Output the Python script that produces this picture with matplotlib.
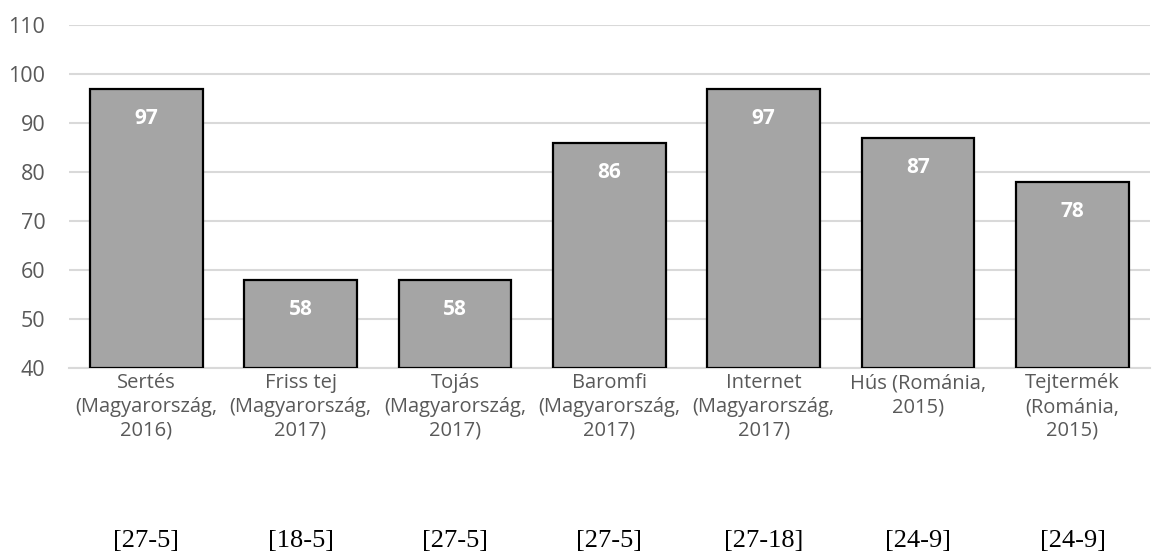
import numpy as np
import matplotlib.pyplot as plt
from matplotlib.transforms import blended_transform_factory

# data
categories = [
    "Sertés\n(Magyarország,\n2016)",
    "Friss tej\n(Magyarország,\n2017)",
    "Tojás\n(Magyarország,\n2017)",
    "Baromfi\n(Magyarország,\n2017)",
    "Internet\n(Magyarország,\n2017)",
    "Hús (Románia,\n2015)",
    "Tejtermék\n(Románia,\n2015)",
]
values = [97, 58, 58, 86, 97, 87, 78]
refs = ["[27-5]", "[18-5]", "[27-5]", "[27-5]", "[27-18]", "[24-9]", "[24-9]"]
yticks = [40, 50, 60, 70, 80, 90, 100, 110]

fig = plt.figure(figsize=(11.59, 5.59), dpi=100, facecolor="w")
ax = fig.add_axes([0.0595, 0.342, 0.9325, 0.613])

x = np.arange(len(categories))
ax.bar(x, np.array(values) - 40, bottom=40, width=0.73, color="#a5a5a5",
       edgecolor="black", linewidth=1.6, zorder=3)

for xi, v in zip(x, values):
    ax.text(xi, v - 6, str(v), ha="center", va="center", color="white",
            fontsize=15, fontweight="bold", family="Open Sans", zorder=4)

ax.set_ylim(40, 110)
ax.set_xlim(-0.5, len(categories) - 0.5)
ax.set_yticks(yticks)
ax.set_xticks(x)
ax.set_xticklabels(categories, fontsize=14.5, color="#595959",
                   family="Open Sans", linespacing=1.25)
ax.tick_params(axis="y", labelsize=15.5, labelcolor="#595959", length=0, pad=17)
ax.tick_params(axis="x", length=0, pad=4)
for lab in ax.get_yticklabels():
    lab.set_family("Open Sans")

ax.grid(axis="y", color="#d9d9d9", linewidth=1.5, zorder=0)
for s in ["top", "right", "left"]:
    ax.spines[s].set_visible(False)
ax.spines["bottom"].set_color("#d9d9d9")
ax.spines["bottom"].set_linewidth(1.5)

tr = blended_transform_factory(ax.transData, ax.transAxes)
for xi, r in zip(x, refs):
    ax.text(xi, -0.505, r, transform=tr, ha="center", va="center",
            fontsize=19, family="Liberation Serif", color="black")

fig.savefig("out.png", dpi=100)
